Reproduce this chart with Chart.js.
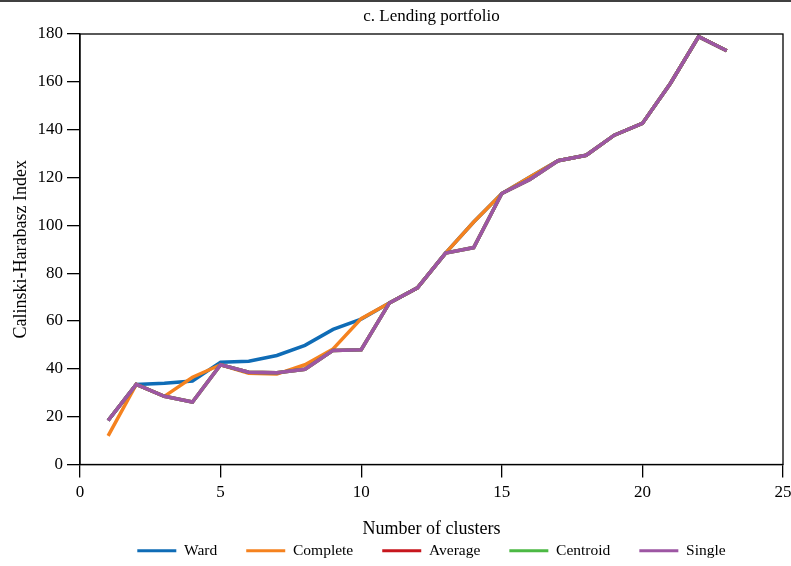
<!DOCTYPE html>
<html>
<head>
<meta charset="utf-8">
<title>c. Lending portfolio</title>
<script src="https://cdn.jsdelivr.net/npm/chart.js@4.4.1/dist/chart.umd.min.js"></script>
<style>
  html, body { margin: 0; padding: 0; background: #fff; }
  #wrap { width: 791px; height: 566px; position: relative; }
</style>
</head>
<body>
<div id="wrap"><canvas id="chChart"></canvas></div>
<script>
// Calinski-Harabasz index by number of clusters, lending portfolio

const clusters = [1, 2, 3, 4, 5, 6, 7, 8, 9, 10, 11, 12, 13, 14, 15, 16, 17, 18, 19, 20, 21, 22, 23];

const ward     = [18.4, 33.5, 34.0, 34.9, 42.8, 43.2, 45.6, 49.8, 56.5, 60.8, 67.5, 73.9, 88.4, 101.4, 113.3, 120.2, 127.0, 129.3, 137.7, 142.6, 159.4, 178.9, 173.0];
const complete = [12.0, 33.5, 28.5, 36.5, 41.7, 38.2, 37.8, 41.7, 48.3, 61.0, 67.5, 73.9, 88.4, 101.4, 113.3, 120.2, 127.0, 129.3, 137.7, 142.6, 159.4, 178.9, 173.0];
const average  = [18.4, 33.5, 28.5, 26.1, 41.7, 38.6, 38.4, 39.8, 47.7, 48.0, 67.5, 73.9, 88.4, 90.7, 113.3, 119.2, 127.0, 129.3, 137.7, 142.6, 159.4, 178.9, 173.0];
const centroid = [18.4, 33.5, 28.5, 26.1, 41.7, 38.6, 38.4, 39.8, 47.7, 48.0, 67.5, 73.9, 88.4, 90.7, 113.3, 119.2, 127.0, 129.3, 137.7, 142.6, 159.4, 178.9, 173.0];
const single   = [18.4, 33.5, 28.5, 26.1, 41.7, 38.6, 38.4, 39.8, 47.7, 48.0, 67.5, 73.9, 88.4, 90.7, 113.3, 119.2, 127.0, 129.3, 137.7, 142.6, 159.4, 178.9, 173.0];

const seriesNames = ['Ward', 'Complete', 'Average', 'Centroid', 'Single'];
const seriesColors = ['#0f6cb6', '#f5821f', '#c7161d', '#4cb944', '#9d56a3'];
const seriesValues = [ward, complete, average, centroid, single];

const FONT = "'Liberation Serif', 'Times New Roman', serif";

function toPoints(values) {
    return values.map((v, i) => ({ x: clusters[i], y: v }));
}

// plot frame + thin rule at the top of the panel
const framePlugin = {
    id: 'frame',
    afterDraw(chart) {
        const { ctx, chartArea: a } = chart;
        ctx.save();
        ctx.strokeStyle = '#000';
        ctx.lineWidth = 1.3;
        ctx.strokeRect(a.left, a.top, a.right - a.left, a.bottom - a.top);
        ctx.beginPath();
        ctx.moveTo(0, 1);
        ctx.lineTo(chart.width, 1);
        ctx.stroke();
        ctx.restore();
    }
};

const datasets = seriesNames.map((name, i) => ({
    label: name,
    data: toPoints(seriesValues[i]),
    borderColor: seriesColors[i],
    backgroundColor: seriesColors[i],
    borderWidth: 3.5,
    pointRadius: 0,
    tension: 0,
    order: seriesNames.length - i
}));

new Chart(document.getElementById('chChart'), {
    type: 'line',
    data: { datasets },
    options: {
        responsive: true,
        maintainAspectRatio: false,
        animation: false,
        layout: { padding: { left: 0, right: 0, top: 0, bottom: -2.5 } },
        plugins: {
            title: {
                display: true,
                text: 'c. Lending portfolio',
                fullSize: false,
                color: '#000',
                font: { family: FONT, size: 17, weight: 'normal' },
                padding: { top: 6, bottom: 7.6 }
            },
            legend: {
                position: 'bottom',
                fullSize: false,
                labels: {
                    color: '#000',
                    font: { family: FONT, size: 15.5 },
                    boxWidth: 39,
                    boxHeight: 3,
                    padding: 29,
                    sort: (a, b) => a.datasetIndex - b.datasetIndex,
                    generateLabels: (chart) =>
                        Chart.defaults.plugins.legend.labels.generateLabels(chart)
                            .map(l => ({ ...l, fillStyle: l.strokeStyle, lineWidth: 0 }))
                }
            },
            tooltip: { enabled: false }
        },
        scales: {
            x: {
                type: 'linear',
                min: 0,
                max: 25,
                afterFit: (s) => { s.height = 49.5; s.paddingRight = 8; },
                ticks: { stepSize: 5, color: '#000', padding: 5, maxRotation: 0, font: { family: FONT, size: 17 } },
                grid: { drawOnChartArea: false, drawTicks: true, tickLength: 13, color: '#000', lineWidth: 1.3 },
                border: { color: '#000', width: 1.3 },
                title: {
                    display: true,
                    text: 'Number of clusters',
                    color: '#000',
                    font: { family: FONT, size: 18 },
                    padding: { top: 0, bottom: -26 }
                }
            },
            y: {
                min: 0,
                max: 180,
                afterFit: (s) => { s.width = 80; },
                ticks: { stepSize: 20, color: '#000', padding: 4, font: { family: FONT, size: 17 } },
                grid: { drawOnChartArea: false, drawTicks: true, tickLength: 13, color: '#000', lineWidth: 1.3 },
                border: { color: '#000', width: 1.3 },
                title: {
                    display: true,
                    text: 'Calinski-Harabasz Index',
                    color: '#000',
                    font: { family: FONT, size: 18 },
                    padding: { top: 10.2, bottom: 0 }
                }
            }
        }
    },
    plugins: [framePlugin]
});
</script>
</body>
</html>
